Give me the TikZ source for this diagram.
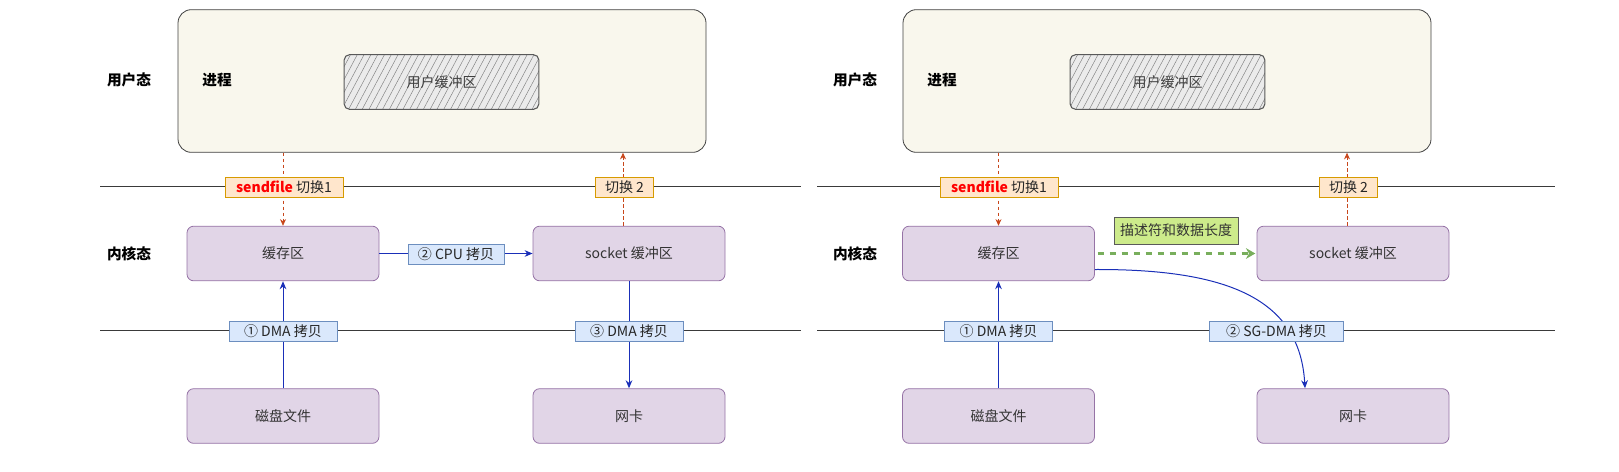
\documentclass[tikz,border=0pt]{standalone}
\usepackage{fontspec}
\setmainfont{Noto Sans CJK SC}
\usetikzlibrary{arrows.meta,calc,patterns.meta}
\definecolor{beige}{HTML}{F9F7ED}
\definecolor{purpleF}{HTML}{E1D5E7}
\definecolor{purpleD}{HTML}{9673A6}
\definecolor{blueF}{HTML}{DAE8FC}
\definecolor{blueD}{HTML}{6C8EBF}
\definecolor{orF}{HTML}{FFE6CC}
\definecolor{orD}{HTML}{D79B00}
\definecolor{greenF}{HTML}{CDEB8B}
\definecolor{greenD}{HTML}{5A5A5A}
\definecolor{greenA}{HTML}{78AE5C}
\definecolor{arrowBlue}{HTML}{1A2FB8}
\definecolor{arrowRed}{HTML}{C8471C}
\definecolor{lineGray}{HTML}{3A3A3A}
\begin{document}
\begin{tikzpicture}[x=0.75pt,y=-0.75pt,
  font=\fontsize{10.5}{12}\selectfont,
  procbox/.style={draw=black!75, fill=beige, rounded corners=10pt, minimum width=396pt, minimum height=107pt, line width=0.6pt},
  ubuf/.style={draw=black!65, line width=0.8pt, rounded corners=4pt, minimum width=146pt, minimum height=41pt,
    preaction={fill=black!8}, pattern={Lines[angle=62,distance=4.5pt,line width=0.35pt]}, pattern color=black!50, text=black!75},
  kbox/.style={draw=purpleD, fill=purpleF, rounded corners=5pt, minimum width=144pt, minimum height=41pt, text=black!80, line width=0.6pt},
  bluelab/.style={draw=blueD, fill=blueF, minimum height=15pt, inner sep=1pt, text=black!85, line width=0.6pt},
  orlab/.style={draw=orD, fill=orF, minimum height=15pt, inner sep=1pt, text=black!85, line width=0.6pt},
  greenlab/.style={draw=greenD, fill=greenF, minimum width=93pt, minimum height=20pt, inner sep=1pt, text=black!80, line width=0.5pt},
  sidelab/.style={font=\fontsize{11}{13}\selectfont\bfseries},
  sepline/.style={draw=lineGray, line width=0.7pt},
  bluearrow/.style={draw=arrowBlue, line width=0.75pt, -{Stealth[length=6pt,width=5pt]}},
  redarrow/.style={draw=arrowRed, line width=0.6pt, dash pattern=on 2.5pt off 2pt, -{Stealth[length=5pt,width=4.5pt]}},
  greenarrow/.style={draw=greenA, line width=1.8pt, dash pattern=on 5pt off 4pt, -{Stealth[length=7pt,width=8pt]}}
]
\useasboundingbox (0,0) rectangle (1619,471);

% ================= LEFT PANEL =================
\node[procbox] (outerL) at (442,81) {};
\node[ubuf] (ubufL) at (441.5,82) {用户缓冲区};
\node[sidelab] (userL) at (129,80) {用户态};
\node[sidelab] (procL) at (217,80) {进程};
\node[sidelab] (kernL) at (129,254) {内核态};

\coordinate (l1aL) at (100,186);
\coordinate (l1bL) at (801,186);
\coordinate (l2aL) at (100,330);
\coordinate (l2bL) at (801,330);
\draw[sepline] (l1aL) -- (l1bL);
\draw[sepline] (l2aL) -- (l2bL);

\node[kbox] (cacheL) at (283,253.5) {缓存区};
\node[kbox] (sockL) at (629,253.5) {socket 缓冲区};
\node[kbox] (diskL) at (283,416) {磁盘文件};
\node[kbox] (nicL) at (629,416) {网卡};

\draw[redarrow] (cacheL.north |- outerL.south) -- (cacheL.north);
\draw[redarrow] ([xshift=-4.5pt]sockL.north) -- ([xshift=-4.5pt]sockL.north |- outerL.south);
\draw[bluearrow] (cacheL.east) -- (sockL.west);
\draw[bluearrow] (diskL.north) -- (cacheL.south);
\draw[bluearrow] (sockL.south) -- (nicL.north);

\node[orlab, minimum width=88.5pt] (sw1L) at (284,187) {\textcolor{red}{\bfseries sendfile} 切换1};
\node[orlab, minimum width=44pt] (sw2L) at (624.5,187) {切换 2};
\node[bluelab, minimum width=72pt] (cpuL) at (456,254.5) {② CPU 拷贝};
\node[bluelab, minimum width=81pt] (dma1L) at (283,331) {① DMA 拷贝};
\node[bluelab, minimum width=81pt] (dma3L) at (629,331) {③ DMA 拷贝};

% ================= RIGHT PANEL =================
\node[procbox] (outerR) at (1167,81) {};
\node[ubuf] (ubufR) at (1167.5,82) {用户缓冲区};
\node[sidelab] (userR) at (855,80) {用户态};
\node[sidelab] (procR) at (942,80) {进程};
\node[sidelab] (kernR) at (855,254) {内核态};

\coordinate (l1aR) at (817,186);
\coordinate (l1bR) at (1555,186);
\coordinate (l2aR) at (817,330);
\coordinate (l2bR) at (1555,330);
\draw[sepline] (l1aR) -- (l1bR);
\draw[sepline] (l2aR) -- (l2bR);

\node[kbox] (cacheR) at (998.5,253.5) {缓存区};
\node[kbox] (sockR) at (1353,253.5) {socket 缓冲区};
\node[kbox] (diskR) at (998.5,416) {磁盘文件};
\node[kbox] (nicR) at (1353,416) {网卡};

\draw[redarrow] (cacheR.north |- outerR.south) -- (cacheR.north);
\draw[redarrow] ([xshift=-4.5pt]sockR.north) -- ([xshift=-4.5pt]sockR.north |- outerR.south);
\draw[greenarrow] ([xshift=2pt]cacheR.east) -- ([xshift=-1pt]sockR.west);
\draw[bluearrow] (diskR.north) -- (cacheR.south);
\coordinate (sgStart) at ($(cacheR.east)+(0,16)$);
\coordinate (sgEnd) at ($(nicR.north)+(-48,0)$);
\draw[bluearrow] (sgStart) .. controls (1230,269) and (1300,300) .. (sgEnd);

\node[orlab, minimum width=88.5pt] (sw1R) at (999,187) {\textcolor{red}{\bfseries sendfile} 切换1};
\node[orlab, minimum width=44pt] (sw2R) at (1348.5,187) {切换 2};
\node[greenlab] (descR) at (1176,230.5) {描述符和数据长度};
\node[bluelab, minimum width=81pt] (dma1R) at (998.5,331) {① DMA 拷贝};
\node[bluelab, minimum width=101pt] (sgR) at (1276.5,331) {② SG-DMA 拷贝};
\end{tikzpicture}
\end{document}
